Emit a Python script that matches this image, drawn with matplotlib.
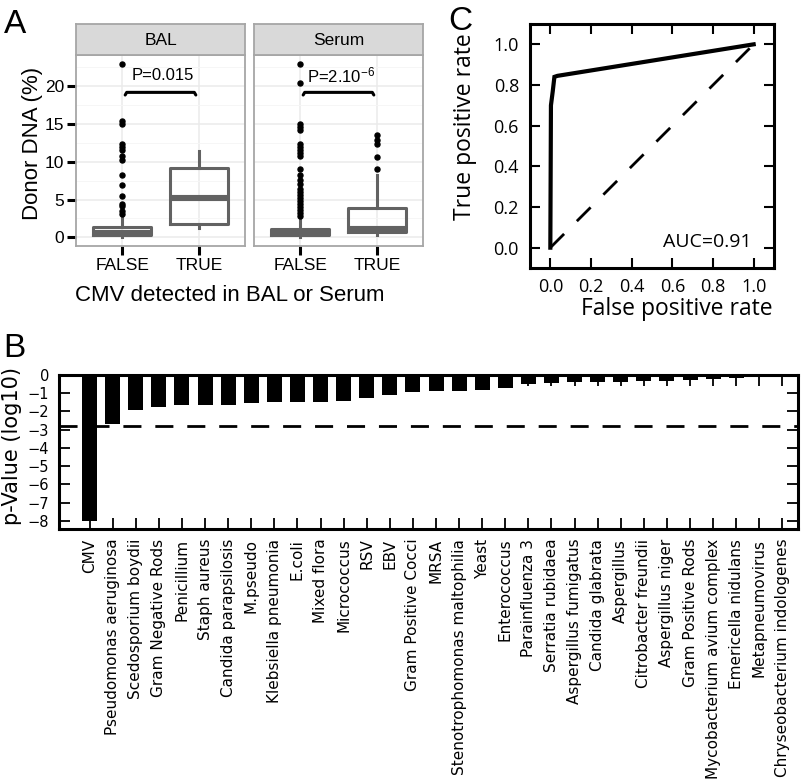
import matplotlib
matplotlib.use("Agg")
import matplotlib.pyplot as plt
import numpy as np

W, H = 802, 779

# ── Panel A: donor DNA (%) box summaries (FALSE, TRUE) ──
GROUPS = ["FALSE", "TRUE"]
BAL_Q1 = [0.25, 1.8]
BAL_MED = [0.55, 5.25]
BAL_Q3 = [1.4, 9.2]
BAL_LO = [0.0, 1.2]
BAL_HI = [2.9, 11.4]
BAL_FLIERS = [
    [22.9, 15.4, 15.0, 12.3, 12.0, 11.6, 10.8, 10.3, 8.2, 6.9, 5.5, 4.4, 4.1, 3.5, 3.1],
    [],
]
SER_Q1 = [0.25, 0.65]
SER_MED = [0.6, 1.15]
SER_Q3 = [1.15, 3.9]
SER_LO = [0.0, 0.3]
SER_HI = [2.6, 8.3]
SER_FLIERS = [
    [22.9, 20.5, 15.0, 14.6, 14.2, 12.4, 12.0, 11.6, 11.2, 10.8, 9.1, 8.2, 7.6, 7.0,
     6.4, 6.0, 5.6, 5.2, 4.8, 4.4, 4.0, 3.6, 3.2, 2.8],
    [13.6, 12.9, 12.4, 10.7, 9.0],
]
P_TEXT = ["P=0.015", "P=2.10$^{-6}$"]
P_BRACKET_Y = 19.2

# ── Panel C: ROC curve ──
ROC_FPR = [0.0, 0.003, 0.012, 0.02, 0.035, 1.0]
ROC_TPR = [0.0, 0.70, 0.77, 0.84, 0.845, 1.0]
AUC = 0.91

# ── Panel B: log10 p-values per organism ──
ORGANISMS = [
    "CMV", "Pseudomonas aeruginosa", "Scedosporium boydii", "Gram Negative Rods",
    "Penicillium", "Staph aureus", "Candida parapsilosis", "M.pseudo",
    "Klebsiella pneumonia", "E.coli", "Mixed flora", "Micrococcus", "RSV", "EBV",
    "Gram Positive Cocci", "MRSA", "Stenotrophomonas maltophilia", "Yeast",
    "Enterococcus", "Parainfluenza 3", "Serratia rubidaea", "Aspergillus fumigatus",
    "Candida glabrata", "Aspergillus", "Citrobacter freundii", "Aspergillus niger",
    "Gram Positive Rods", "Mycobacterium avium complex", "Emericella nidulans",
    "Metapneumovirus", "Chryseobacterium indologenes",
]
LOG10_P = [
    -8.0, -2.7, -1.9, -1.78, -1.66, -1.66, -1.62, -1.53, -1.49, -1.48, -1.46,
    -1.40, -1.27, -1.08, -0.96, -0.90, -0.87, -0.81, -0.74, -0.50, -0.46, -0.41,
    -0.41, -0.37, -0.31, -0.31, -0.26, -0.22, -0.15, -0.09, -0.04,
]
THRESHOLD = -2.8

GRAY_BOX = "#626262"
SANS_A = "Liberation Sans"
SANS_C = "Open Sans"

plt.rcParams.update({
    "font.family": "DejaVu Sans",
    "mathtext.default": "regular",
})

fig = plt.figure(figsize=(W / 100, H / 100), dpi=100)
fig.patch.set_facecolor("white")


def px_axes(l, t, r, b):
    return fig.add_axes([l / W, 1 - b / H, (r - l) / W, (b - t) / H])


def fig_text(x, y, s, **kw):
    return fig.text(x / W, 1 - y / H, s, **kw)


# ── Panel A ──────────────────────────────────────────────────────────────────
facets = [
    ("BAL", BAL_Q1, BAL_MED, BAL_Q3, BAL_LO, BAL_HI, BAL_FLIERS, 76, 245),
    ("Serum", SER_Q1, SER_MED, SER_Q3, SER_LO, SER_HI, SER_FLIERS, 254, 423),
]
for fi, (name, q1, med, q3, lo, hi, fl, left, right) in enumerate(facets):
    ax = px_axes(left, 55, right, 246)
    stats = [
        {"q1": q1[i], "med": med[i], "q3": q3[i], "whislo": lo[i], "whishi": hi[i],
         "fliers": fl[i], "label": GROUPS[i]}
        for i in range(2)
    ]
    ax.bxp(stats, positions=[1, 2], widths=0.75, showcaps=False,
           boxprops=dict(color=GRAY_BOX, linewidth=2.2),
           whiskerprops=dict(color=GRAY_BOX, linewidth=2.2),
           medianprops=dict(color=GRAY_BOX, linewidth=4.4, solid_capstyle="butt"),
           flierprops=dict(marker="o", markerfacecolor="black", markeredgecolor="black",
                           markersize=3.6))
    ax.set_xlim(0.4, 2.6)
    ax.set_ylim(-1.15, 24.15)
    ax.set_yticks([0, 5, 10, 15, 20])
    ax.set_yticks([2.5, 7.5, 12.5, 17.5, 22.5], minor=True)
    ax.grid(which="major", color="#EBEBEB", linewidth=1.1, zorder=0)
    ax.grid(which="minor", axis="y", color="#F5F5F5", linewidth=0.6, zorder=0)
    ax.set_axisbelow(True)
    for sp in ax.spines.values():
        sp.set_color("#A6A6A6")
        sp.set_linewidth(1.3)
    ax.tick_params(which="major", direction="out", length=6.5, width=2.2, color="black",
                   labelsize=12.5, pad=2)
    ax.tick_params(which="minor", length=0)
    ax.set_xticks([1, 2])
    ax.set_xticklabels(GROUPS, fontfamily=SANS_A)
    if fi == 0:
        ax.set_yticklabels([str(v) for v in [0, 5, 10, 15, 20]], fontfamily=SANS_A)
    else:
        ax.tick_params(axis="y", left=False, labelleft=False)
    # significance bracket
    ax.plot([1.04, 1.06, 1.94, 1.96], [P_BRACKET_Y - 0.35, P_BRACKET_Y, P_BRACKET_Y,
                                      P_BRACKET_Y - 0.35],
            color="black", linewidth=2.2, solid_capstyle="round", zorder=4)
    ax.text(1.53, P_BRACKET_Y + 2.3, P_TEXT[fi], ha="center", va="center",
            fontsize=12, fontfamily=SANS_A)

    strip = px_axes(left, 24, right, 55)
    strip.set_facecolor("#D9D9D9")
    strip.set_xticks([])
    strip.set_yticks([])
    for sp in strip.spines.values():
        sp.set_color("#A6A6A6")
        sp.set_linewidth(1.3)
    strip.text(0.5, 0.47, name, ha="center", va="center", fontsize=12.5,
               fontfamily=SANS_A, transform=strip.transAxes)

fig_text(33, 143, "Donor DNA (%)", rotation=90, ha="center", va="center",
         fontsize=16, fontfamily=SANS_A)
fig_text(230, 296, "CMV detected in BAL or Serum", ha="center", va="center",
         fontsize=16, fontfamily=SANS_A)
fig_text(4, 33, "A", fontsize=24, fontfamily=SANS_A, va="baseline")

# ── Panel C ──────────────────────────────────────────────────────────────────
axc = px_axes(530, 24, 774, 268)
axc.plot(ROC_FPR, ROC_TPR, color="black", linewidth=3.0, solid_joinstyle="miter")
axc.plot([0, 1], [0, 1], color="black", linewidth=2.0, linestyle=(0, (7, 6.5)))
axc.set_xlim(-0.1, 1.1)
axc.set_ylim(-0.1, 1.1)
ticks = [0.0, 0.2, 0.4, 0.6, 0.8, 1.0]
axc.set_xticks(ticks)
axc.set_yticks(ticks)
axc.set_xticklabels([f"{t:.1f}" for t in ticks], fontfamily=SANS_C)
axc.set_yticklabels([f"{t:.1f}" for t in ticks], fontfamily=SANS_C)
axc.tick_params(direction="in", top=True, right=True, length=7, width=1.5,
                labelsize=13)
axc.tick_params(axis="x", pad=7)
axc.tick_params(axis="y", pad=8)
for sp in axc.spines.values():
    sp.set_linewidth(2.2)
axc.text(0.99, 0.03, f"AUC={AUC:.2f}", ha="right", va="center", fontsize=14,
         fontfamily=SANS_C)
fig_text(465, 127, "True positive rate", rotation=90, ha="center", va="center",
         fontsize=16.5, fontfamily=SANS_C)
fig_text(677, 309, "False positive rate", ha="center", va="center",
         fontsize=16.5, fontfamily=SANS_C)
fig_text(448, 30, "C", fontsize=24, fontfamily=SANS_A, va="baseline")

# ── Panel B ──────────────────────────────────────────────────────────────────
axb = px_axes(59, 375, 798, 529)
x = np.arange(len(ORGANISMS))
axb.bar(x, LOG10_P, width=0.65, align="edge", color="black", zorder=2)
axb.axhline(THRESHOLD, color="black", linewidth=2.0, linestyle=(0, (6.5, 5)), zorder=3)
axb.set_xlim(-1, len(ORGANISMS))
axb.set_ylim(-8.45, 0)
axb.set_yticks(np.arange(-8, 1))
axb.set_xticks(x + 0.325)
axb.set_xticklabels(ORGANISMS, rotation=90, fontsize=11)
axb.tick_params(axis="y", labelsize=10.5)
axb.tick_params(direction="in", top=True, right=True, length=8, width=1.3, pad=7)
for sp in axb.spines.values():
    sp.set_linewidth(2.2)
fig_text(12, 446, "p-Value (log10)", rotation=90, ha="center", va="center",
         fontsize=15)
fig_text(3, 357, "B", fontsize=24, fontfamily=SANS_A, va="baseline")

fig.savefig("out.png", dpi=100)
